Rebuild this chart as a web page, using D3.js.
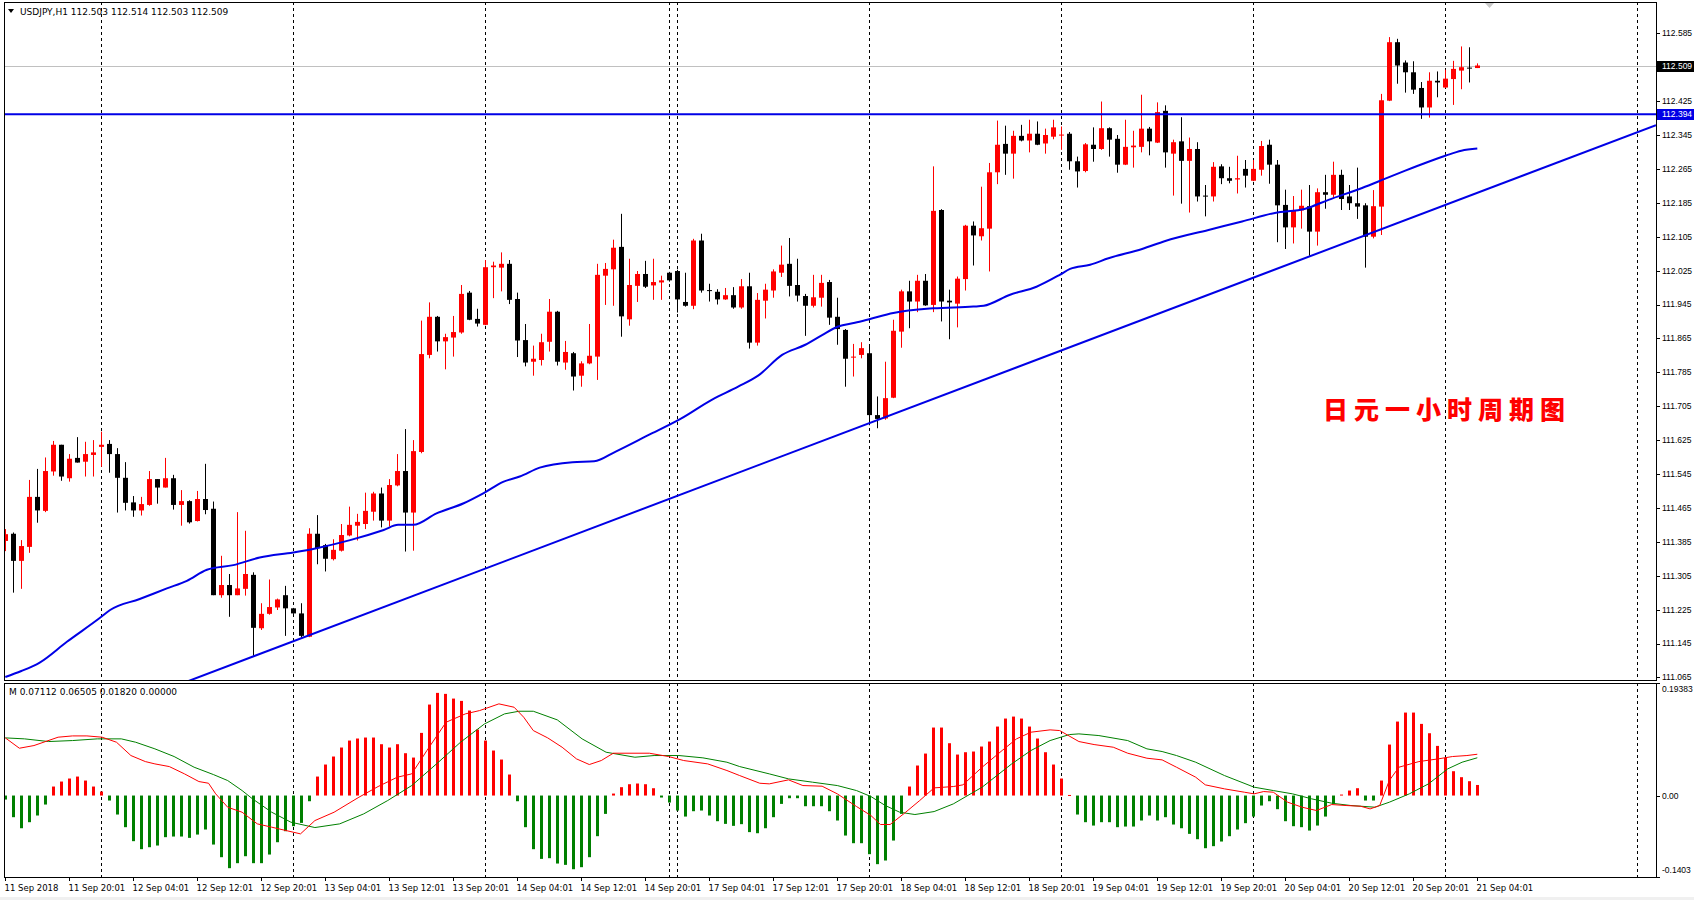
<!DOCTYPE html>
<html><head><meta charset="utf-8">
<script src="https://cdn.jsdelivr.net/npm/d3@7"></script>
<style>html,body{margin:0;padding:0;background:#fff;overflow:hidden}</style>
</head><body>
<svg id="c" width="1694" height="900"></svg>
<script>
// ---------------- DATA ----------------
const symbolHeader = "USDJPY,H1  112.503 112.514 112.503 112.509";
const macdHeader = "M 0.07112 0.06505 0.01820 0.00000";
const opens = [111.387,111.404,111.340,111.373,111.491,111.458,111.551,111.614,111.535,111.583,111.574,111.590,111.609,111.616,111.592,111.536,111.478,111.459,111.472,111.533,111.513,111.535,111.472,111.481,111.434,111.486,111.463,111.259,111.283,111.259,111.274,111.307,111.181,111.215,111.230,111.259,111.228,111.216,111.161,111.404,111.377,111.344,111.364,111.400,111.423,111.427,111.456,111.499,111.435,111.518,111.552,111.454,111.597,111.826,111.916,111.858,111.867,111.879,111.973,111.911,111.897,112.033,112.032,112.041,111.958,111.861,111.810,111.814,111.857,111.928,111.808,111.830,111.777,111.806,111.822,112.013,112.028,112.081,111.910,111.989,112.017,111.990,111.997,112.020,112.024,111.951,111.942,112.096,111.979,111.975,111.957,111.967,111.938,111.988,111.855,111.954,111.978,112.020,112.041,111.991,111.965,111.942,111.961,111.998,111.916,111.885,111.821,111.826,111.830,111.684,111.676,111.725,111.881,111.976,111.952,112.001,111.944,112.168,111.954,111.947,112.005,112.131,112.106,112.124,112.257,112.324,112.301,112.343,112.332,112.348,112.325,112.341,112.345,112.348,112.283,112.260,112.322,112.312,112.361,112.336,112.275,112.316,112.317,112.360,112.327,112.402,112.301,112.330,112.284,112.312,112.202,112.200,112.271,112.243,112.240,112.265,112.237,112.263,112.322,112.275,112.180,112.127,112.167,112.177,112.117,112.210,112.204,112.251,112.200,112.184,112.179,112.105,112.176,112.426,112.564,112.516,112.493,112.456,112.410,112.473,112.457,112.477,112.497,112.504,112.503];
const highs = [111.415,111.407,111.389,111.531,111.557,111.584,111.623,111.614,111.592,111.632,111.621,111.625,111.645,111.625,111.606,111.573,111.493,111.491,111.552,111.533,111.583,111.543,111.507,111.483,111.505,111.569,111.480,111.352,111.309,111.455,111.411,111.313,111.240,111.296,111.251,111.281,111.229,111.240,111.417,111.448,111.380,111.391,111.427,111.468,111.451,111.501,111.503,111.513,111.533,111.592,111.651,111.625,111.907,111.950,111.918,111.876,111.918,111.991,111.977,111.935,112.050,112.046,112.068,112.050,111.973,111.899,111.848,111.876,111.958,111.930,111.859,111.833,111.811,111.899,112.041,112.043,112.098,112.159,112.053,112.024,112.048,112.053,112.013,112.022,112.027,112.020,112.100,112.112,111.994,111.981,111.984,111.986,112.005,112.020,111.972,111.994,112.028,112.084,112.102,112.053,111.970,112.015,112.015,112.003,111.961,111.887,111.852,111.856,111.846,111.728,111.810,111.909,111.980,112.001,112.015,112.017,112.271,112.170,111.980,112.011,112.133,112.141,112.223,112.279,112.379,112.367,112.355,112.369,112.381,112.377,112.360,112.381,112.365,112.352,112.294,112.326,112.363,112.424,112.363,112.345,112.381,112.355,112.440,112.364,112.422,112.415,112.334,112.387,112.339,112.328,112.227,112.281,112.276,112.270,112.296,112.286,112.286,112.331,112.334,112.286,112.216,112.201,112.216,112.227,112.219,112.251,112.282,112.263,112.227,112.268,112.184,112.215,112.442,112.576,112.572,112.521,112.519,112.470,112.493,112.495,112.499,112.520,112.554,112.552,112.514];
const lows = [111.363,111.265,111.274,111.359,111.430,111.455,111.541,111.529,111.527,111.572,111.539,111.539,111.562,111.548,111.454,111.459,111.444,111.447,111.470,111.475,111.513,111.461,111.423,111.428,111.433,111.450,111.259,111.253,111.208,111.259,111.258,111.116,111.177,111.213,111.224,111.163,111.215,111.159,111.160,111.332,111.315,111.341,111.362,111.398,111.388,111.415,111.435,111.419,111.421,111.516,111.362,111.364,111.594,111.818,111.834,111.792,111.822,111.876,111.908,111.893,111.896,111.960,111.976,111.946,111.821,111.799,111.777,111.801,111.834,111.801,111.791,111.742,111.751,111.804,111.767,111.944,111.942,111.869,111.895,111.951,111.984,111.956,111.956,111.999,111.926,111.940,111.934,111.973,111.952,111.945,111.956,111.935,111.935,111.841,111.848,111.912,111.961,112.010,111.964,111.952,111.871,111.938,111.940,111.897,111.850,111.751,111.775,111.818,111.660,111.653,111.673,111.724,111.843,111.889,111.927,111.942,111.927,111.905,111.863,111.891,111.978,112.037,112.096,112.023,112.229,112.251,112.242,112.330,112.304,112.321,112.301,112.335,112.310,112.263,112.221,112.257,112.282,112.310,112.294,112.256,112.274,112.268,112.304,112.297,112.326,112.268,112.202,112.183,112.162,112.188,112.153,112.188,112.229,112.231,112.207,112.221,112.236,112.249,112.230,112.092,112.076,112.089,112.124,112.060,112.084,112.171,112.197,112.168,112.168,112.147,112.032,112.101,112.109,112.425,112.466,112.445,112.442,112.383,112.386,112.434,112.456,112.416,112.453,112.469,112.503];
const closes = [111.403,111.340,111.375,111.491,111.459,111.552,111.614,111.539,111.581,111.572,111.592,111.596,111.614,111.592,111.536,111.477,111.459,111.474,111.533,111.513,111.535,111.472,111.481,111.431,111.486,111.460,111.259,111.283,111.259,111.275,111.309,111.182,111.215,111.231,111.249,111.228,111.216,111.163,111.404,111.370,111.345,111.366,111.401,111.425,111.432,111.458,111.499,111.435,111.519,111.552,111.454,111.599,111.828,111.916,111.858,111.868,111.880,111.970,111.909,111.900,112.033,112.037,112.041,111.956,111.860,111.808,111.817,111.856,111.928,111.810,111.833,111.775,111.806,111.824,112.015,112.029,112.079,111.917,111.991,112.017,111.987,111.998,112.002,112.002,111.957,111.942,112.096,111.978,111.978,111.957,111.967,111.938,111.988,111.855,111.956,111.980,112.023,112.039,111.989,111.966,111.942,111.962,111.996,111.914,111.887,111.817,111.822,111.842,111.684,111.675,111.724,111.883,111.976,111.952,112.001,111.943,112.166,111.952,111.950,112.006,112.131,112.108,112.125,112.257,112.322,112.301,112.343,112.332,112.348,112.322,112.345,112.363,112.346,112.283,112.259,112.323,112.312,112.361,112.334,112.275,112.317,112.320,112.360,112.330,112.399,112.304,112.328,112.284,112.312,112.200,112.201,112.270,112.243,112.237,112.243,112.249,112.265,112.319,112.275,112.179,112.127,112.168,112.178,112.117,112.210,112.204,112.251,112.194,112.184,112.176,112.105,112.177,112.427,112.564,112.509,112.493,112.452,112.410,112.473,112.469,112.478,112.501,112.505,112.503,112.509];
// moving average: [bar index, price]
const maPoints = [[0,111.066],[2.0,111.080],[4.3,111.100],[7.7,111.149],[11.8,111.205],[13.1,111.224],[16.8,111.250],[20.2,111.275],[22.7,111.293],[25.2,111.319],[28.5,111.330],[31.8,111.348],[36.0,111.360],[38.9,111.370],[43.1,111.389],[47.3,111.413],[49.1,111.425],[51.0,111.425],[53.9,111.452],[57.3,111.476],[59.8,111.500],[62.3,111.527],[64.3,111.539],[66.8,111.560],[70.9,111.573],[73.6,111.575],[76.3,111.598],[80.3,111.636],[84.4,111.675],[88.3,111.720],[91.6,111.751],[94.1,111.777],[97.1,111.826],[100.0,111.850],[102.1,111.873],[104.1,111.893],[106.2,111.902],[108.1,111.911],[111.0,111.925],[116.0,111.936],[121.0,111.940],[122.3,111.942],[125.6,111.968],[128.9,111.987],[131.8,112.015],[133.1,112.029],[135.6,112.039],[137.9,112.054],[142.1,112.076],[145.0,112.095],[150.4,112.121],[154.6,112.141],[158.7,112.161],[162.5,112.171],[165.4,112.192],[169.6,112.220],[172.5,112.242],[175.0,112.261],[177.9,112.282],[180.0,112.296],[182.0,112.308],[184.0,112.313]];
const levelPrice = 112.394;
const trendAnchors = [[28,111.0930],[184,112.2085]];
const lastPrice = 112.509;
const histogram = [-0.0069,-0.0373,-0.0563,-0.0459,-0.0344,-0.0155,0.0155,0.0241,0.0293,0.0327,0.0258,0.0155,0.0069,-0.0086,-0.0327,-0.0545,-0.0786,-0.0924,-0.0890,-0.0861,-0.0717,-0.0706,-0.0706,-0.0729,-0.0672,-0.0585,-0.0844,-0.1062,-0.1251,-0.1165,-0.1045,-0.1165,-0.1165,-0.1016,-0.0804,-0.0614,-0.0528,-0.0471,-0.0098,0.0327,0.0534,0.0672,0.0827,0.0947,0.0982,0.0999,0.0999,0.0884,0.0827,0.0884,0.0729,0.0654,0.1079,0.1567,0.1768,0.1751,0.1670,0.1630,0.1464,0.1137,0.0947,0.0775,0.0620,0.0362,-0.0098,-0.0545,-0.0924,-0.1091,-0.1079,-0.1171,-0.1194,-0.1269,-0.1234,-0.1062,-0.0700,-0.0316,0.0034,0.0144,0.0195,0.0207,0.0195,0.0126,-0.0034,-0.0121,-0.0258,-0.0362,-0.0270,-0.0258,-0.0344,-0.0442,-0.0488,-0.0522,-0.0493,-0.0630,-0.0649,-0.0563,-0.0373,-0.0144,-0.0046,-0.0046,-0.0184,-0.0184,-0.0184,-0.0270,-0.0430,-0.0689,-0.0821,-0.0821,-0.1010,-0.1182,-0.1119,-0.0775,-0.0316,0.0155,0.0517,0.0723,0.1171,0.1171,0.0901,0.0706,0.0746,0.0758,0.0844,0.0930,0.1188,0.1326,0.1360,0.1326,0.1188,0.0982,0.0746,0.0534,0.0293,0.0010,-0.0327,-0.0459,-0.0517,-0.0459,-0.0459,-0.0545,-0.0534,-0.0534,-0.0430,-0.0344,-0.0430,-0.0373,-0.0499,-0.0563,-0.0660,-0.0752,-0.0907,-0.0872,-0.0792,-0.0700,-0.0585,-0.0476,-0.0362,-0.0172,-0.0098,-0.0235,-0.0442,-0.0528,-0.0545,-0.0603,-0.0517,-0.0362,-0.0144,0.0017,0.0086,0.0126,-0.0086,-0.0086,0.0258,0.0878,0.1274,0.1429,0.1429,0.1234,0.1073,0.0855,0.0649,0.0419,0.0316,0.0247,0.0182];
const macdMain = [[0,0.0993],[1.76,0.0815],[3.58,0.0861],[6.6,0.1005],[8.4,0.1027],[10.2,0.1027],[12.1,0.1005],[13.9,0.0918],[15.7,0.0689],[17.5,0.0585],[18.7,0.0545],[20.5,0.0499],[22.4,0.0373],[24.2,0.0241],[25.4,0.0212],[26.3,0.0029],[27.8,-0.0201],[29.6,-0.0287],[31.5,-0.0488],[33.3,-0.0545],[35.1,-0.0603],[36.9,-0.0660],[38.7,-0.0431],[41.1,-0.0287],[44.2,-0.0029],[46.6,0.0155],[49.0,0.0316],[50.8,0.0373],[52.7,0.0775],[55.1,0.1263],[57.5,0.1406],[59.3,0.1464],[61.7,0.1579],[63.6,0.1521],[64.8,0.1349],[66.0,0.1119],[67.8,0.0993],[69.6,0.0832],[71.4,0.0631],[73.0,0.0534],[74.5,0.0603],[76.0,0.0729],[80.5,0.0729],[82.9,0.0672],[84.8,0.0603],[87.8,0.0545],[90.2,0.0431],[91.8,0.0344],[94.3,0.0212],[95.5,0.0201],[97.9,0.0270],[99.7,0.0172],[102.1,0.0161],[104.0,0.0029],[106.4,-0.0189],[108.2,-0.0344],[109.4,-0.0499],[110.6,-0.0499],[112.4,-0.0304],[114.3,-0.0086],[116.1,0.0132],[118.5,0.0155],[119.7,0.0184],[122.1,0.0488],[124.6,0.0775],[126.4,0.0976],[128.2,0.1091],[130.6,0.1131],[131.8,0.1119],[134.2,0.0930],[136.1,0.0878],[138.5,0.0832],[140.3,0.0729],[142.7,0.0643],[144.6,0.0614],[146.4,0.0488],[148.8,0.0316],[150.0,0.0184],[152.4,0.0115],[154.9,0.0057],[156.1,0.0029],[157.3,0.0069],[158.5,0.0057],[160.3,-0.0115],[162.1,-0.0201],[163.9,-0.0258],[165.8,-0.0155],[167.6,-0.0172],[169.4,-0.0184],[170.6,-0.0230],[171.8,-0.0172],[173.0,0.0258],[174.2,0.0488],[176.7,0.0585],[179.1,0.0631],[180.9,0.0672],[182.7,0.0689],[184,0.07112]];
const macdSignal = [[0,0.0993],[2.4,0.0976],[5.4,0.0930],[8.4,0.0947],[11.5,0.0976],[14.5,0.0976],[16.3,0.0918],[18.7,0.0804],[21.1,0.0672],[23.6,0.0488],[26.0,0.0362],[27.8,0.0258],[29.6,0.0086],[30.9,-0.0057],[33.3,-0.0287],[35.7,-0.0459],[38.7,-0.0551],[41.8,-0.0488],[44.8,-0.0316],[47.8,-0.0086],[50.8,0.0172],[53.9,0.0545],[56.9,0.0918],[59.9,0.1234],[62.4,0.1406],[64.2,0.1452],[66.0,0.1452],[69.0,0.1303],[72.1,0.0976],[75.1,0.0746],[78.7,0.0660],[81.1,0.0689],[84.2,0.0689],[87.2,0.0649],[90.2,0.0574],[91.8,0.0499],[95.5,0.0373],[97.9,0.0287],[100.9,0.0230],[104.0,0.0172],[106.4,0.0086],[108.2,-0.0017],[110.0,-0.0172],[111.8,-0.0287],[113.7,-0.0327],[116.1,-0.0276],[118.5,-0.0144],[122.1,0.0144],[125.8,0.0545],[128.2,0.0775],[130.6,0.0947],[133.0,0.1050],[134.2,0.1062],[136.7,0.1033],[140.3,0.0947],[142.7,0.0804],[144.6,0.0758],[146.4,0.0689],[148.8,0.0574],[152.4,0.0344],[156.1,0.0144],[158.5,0.0086],[160.9,0.0029],[163.3,-0.0057],[165.8,-0.0132],[168.2,-0.0172],[171.2,-0.0201],[173.0,-0.0115],[175.5,0.0029],[177.9,0.0201],[180.3,0.0459],[182.1,0.0574],[184,0.06505]];
const priceTicks = [112.585,112.505,112.425,112.345,112.265,112.185,112.105,112.025,111.945,111.865,111.785,111.705,111.625,111.545,111.465,111.385,111.305,111.225,111.145,111.065];
const macdTicks = [0.19383,0.00,-0.1403];
const macdTickLabels = ["0.19383","0.00","-0.1403"];
const timeLabels = ["11 Sep 2018","11 Sep 20:01","12 Sep 04:01","12 Sep 12:01","12 Sep 20:01","13 Sep 04:01","13 Sep 12:01","13 Sep 20:01","14 Sep 04:01","14 Sep 12:01","14 Sep 20:01","17 Sep 04:01","17 Sep 12:01","17 Sep 20:01","18 Sep 04:01","18 Sep 12:01","18 Sep 20:01","19 Sep 04:01","19 Sep 12:01","19 Sep 20:01","20 Sep 04:01","20 Sep 12:01","20 Sep 20:01","21 Sep 04:01"];
const separatorBars = [12,36,60,83,84,108,132,156,180,204];
const annotation = "日元一小时周期图";

// ---------------- LAYOUT ----------------
const L = 4, R = 1656;
const mainTop = 2, mainBot = 680, subTop = 683, subBot = 877;
const svg = d3.select('#c');
const x = d3.scaleLinear().domain([0, 184]).range([5.3, 5.3 + 8 * 184]);
const y = d3.scaleLinear().domain([111.065, 112.585]).range([677.4, 33.3]);
const ym = d3.scaleLinear().domain([-0.1403, 0.19383]).range([subBot, subTop]);
const px = v => Math.floor(x(v)) + 0.5;

svg.append('rect').attr('width', 1694).attr('height', 900).attr('fill', '#fff');
svg.append('rect').attr('x', 0).attr('y', 897).attr('width', 1694).attr('height', 3).attr('fill', '#f0f0f0');
const defs = svg.append('defs');
defs.append('clipPath').attr('id', 'cm').append('rect').attr('x', L).attr('y', mainTop).attr('width', R - L).attr('height', mainBot - mainTop);
defs.append('clipPath').attr('id', 'cs').append('rect').attr('x', L).attr('y', subTop).attr('width', R - L).attr('height', subBot - subTop);

// separators
const sepG = svg.append('g');
separatorBars.forEach(b => {
  [[mainTop, mainBot], [subTop, subBot]].forEach(([a, c]) => {
    sepG.append('line').attr('x1', px(b)).attr('x2', px(b)).attr('y1', a).attr('y2', c)
      .attr('stroke', '#000').attr('stroke-width', 1).attr('stroke-dasharray', '3,3');
  });
});

// main panel
const gm = svg.append('g').attr('clip-path', 'url(#cm)');
gm.append('line').attr('x1', L).attr('x2', R).attr('y1', Math.round(y(lastPrice)) + 0.5).attr('y2', Math.round(y(lastPrice)) + 0.5)
  .attr('stroke', '#c0c0c0').attr('stroke-width', 1);
const bars = d3.range(opens.length).map(i => ({ i, o: opens[i], h: highs[i], l: lows[i], c: closes[i] }));
const col = d => d.c >= d.o ? '#ff0000' : '#000000';
gm.selectAll('line.w').data(bars).join('line').attr('class', 'w')
  .attr('x1', d => px(d.i)).attr('x2', d => px(d.i))
  .attr('y1', d => y(d.h)).attr('y2', d => y(d.l)).attr('stroke', col).attr('stroke-width', 1);
gm.selectAll('rect.b').data(bars).join('rect').attr('class', 'b')
  .attr('x', d => Math.floor(x(d.i)) - 2).attr('width', 5)
  .attr('y', d => y(Math.max(d.o, d.c))).attr('height', d => Math.max(1, Math.abs(y(d.o) - y(d.c))))
  .attr('fill', col);
const blue = '#0000e6';
gm.append('path').datum(maPoints).attr('fill', 'none').attr('stroke', blue).attr('stroke-width', 2)
  .attr('d', d3.line().curve(d3.curveMonotoneX).x(d => x(d[0])).y(d => y(d[1])));
gm.append('line').attr('x1', L).attr('x2', R).attr('y1', y(levelPrice)).attr('y2', y(levelPrice))
  .attr('stroke', blue).attr('stroke-width', 2);
const slope = (trendAnchors[1][1] - trendAnchors[0][1]) / (trendAnchors[1][0] - trendAnchors[0][0]);
const tEnd = x.invert(R);
gm.append('line').attr('x1', x(0)).attr('y1', y(trendAnchors[0][1] - slope * trendAnchors[0][0]))
  .attr('x2', x(tEnd)).attr('y2', y(trendAnchors[0][1] + slope * (tEnd - trendAnchors[0][0])))
  .attr('stroke', blue).attr('stroke-width', 2);

// sub panel
const gs = svg.append('g').attr('clip-path', 'url(#cs)');
gs.selectAll('rect.h').data(histogram).join('rect').attr('class', 'h')
  .attr('x', (d, i) => Math.floor(x(i)) - 1).attr('width', 3)
  .attr('y', d => Math.min(ym(d), ym(0))).attr('height', d => Math.max(1, Math.abs(ym(d) - ym(0))))
  .attr('fill', d => d >= 0 ? '#ff0000' : '#008000');
const ml = d3.line().x(d => x(d[0])).y(d => ym(d[1]));
gs.append('path').datum(macdSignal).attr('fill', 'none').attr('stroke', '#008000').attr('stroke-width', 1).attr('d', ml);
gs.append('path').datum(macdMain).attr('fill', 'none').attr('stroke', '#ff0000').attr('stroke-width', 1).attr('d', ml);

// frames
svg.append('rect').attr('x', L + 0.5).attr('y', mainTop + 0.5).attr('width', R - L).attr('height', mainBot - mainTop)
  .attr('fill', 'none').attr('stroke', '#000');
svg.append('rect').attr('x', L + 0.5).attr('y', subTop + 0.5).attr('width', R - L).attr('height', subBot - subTop)
  .attr('fill', 'none').attr('stroke', '#000');

// price axis
const axF = '"Liberation Sans", Arial, sans-serif';
const axS = 8.5;
const ax = svg.append('g');
priceTicks.forEach(p => {
  ax.append('line').attr('x1', R).attr('x2', R + 4).attr('y1', Math.round(y(p)) + 0.5).attr('y2', Math.round(y(p)) + 0.5).attr('stroke', '#000');
  ax.append('text').attr('x', R + 6).attr('y', y(p)).attr('dy', '0.35em').attr('font-family', axF).attr('font-size', axS).attr('fill', '#000').text(p.toFixed(3));
});
function tag(p, fill, label) {
  const yy = Math.round(y(p));
  ax.append('rect').attr('x', R + 1).attr('y', yy - 5).attr('width', 1694 - R).attr('height', 11).attr('fill', fill);
  ax.append('text').attr('x', R + 6).attr('y', yy).attr('dy', '0.35em').attr('font-family', axF).attr('font-size', axS).attr('fill', '#fff').text(label);
}
tag(lastPrice, '#000', lastPrice.toFixed(3));
tag(levelPrice, blue, levelPrice.toFixed(3));
macdTicks.forEach((v, k) => {
  const yy = k === 0 ? subTop + 6 : (k === 2 ? subBot - 7 : ym(v));
  ax.append('line').attr('x1', R).attr('x2', R + 4).attr('y1', Math.round(ym(v)) + 0.5).attr('y2', Math.round(ym(v)) + 0.5).attr('stroke', '#000');
  ax.append('text').attr('x', R + 6).attr('y', yy).attr('dy', '0.35em').attr('font-family', axF).attr('font-size', axS).text(macdTickLabels[k]);
});

// time axis
timeLabels.forEach((t, k) => {
  const bi = k * 8;
  ax.append('line').attr('x1', px(bi)).attr('x2', px(bi)).attr('y1', subBot).attr('y2', subBot + 4).attr('stroke', '#000');
  ax.append('text').attr('x', px(bi) - 1).attr('y', 891).attr('font-family', 'Tahoma, "DejaVu Sans", sans-serif').attr('font-size', 8.5).text(t);
});

// headers
svg.append('path').attr('d', 'M8,9 L14,9 L11,13 Z').attr('fill', '#000');
svg.append('text').attr('x', 20).attr('y', 15).attr('font-family', 'Tahoma, "DejaVu Sans", sans-serif').attr('font-size', 9).text(symbolHeader);
svg.append('text').attr('x', 9).attr('y', 695).attr('font-family', 'Tahoma, "DejaVu Sans", sans-serif').attr('font-size', 9).text(macdHeader);
svg.append('path').attr('d', 'M1485,3 L1494,3 L1489.5,8 Z').attr('fill', '#c8c8c8');

// annotation
svg.append('text').attr('x', 1323).attr('y', 419).attr('font-family', '"Noto Sans CJK SC", sans-serif')
  .attr('font-weight', 900).attr('font-size', 25).attr('letter-spacing', 6).attr('fill', '#ff0000').text(annotation);
</script>
</body></html>
